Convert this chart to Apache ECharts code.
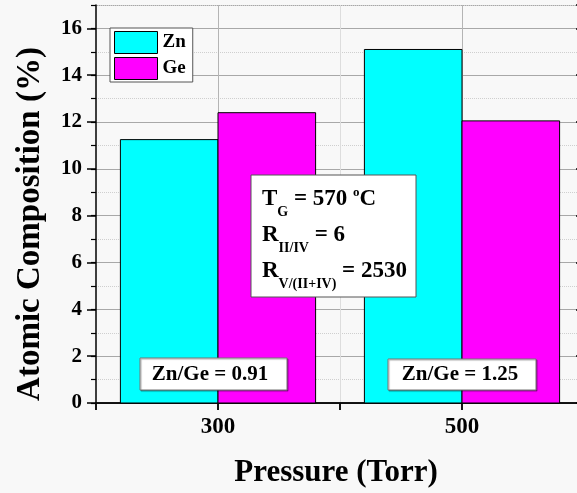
<!DOCTYPE html>
<html>
<head>
<meta charset="utf-8">
<script src="https://cdn.jsdelivr.net/npm/echarts@6/dist/echarts.min.js"></script>
<style>
html, body { margin: 0; padding: 0; background: #f8f8f8; }
#chart { width: 577px; height: 493px; }
</style>
</head>
<body>
<div id="chart"></div>
<script>
// data
var pressures = [300, 500];
var znValues = [11.25, 15.1];
var geValues = [12.4, 12.05];
var ratioLabels = ['Zn/Ge = 0.91', 'Zn/Ge = 1.25'];
var xTickLabels = [300, 500];

var serif = '"Liberation Serif", "Times New Roman", serif';
var barSpan = 80; // bar width in Torr

var chart = echarts.init(document.getElementById('chart'));

// each bar drawn from the axis scale
function barRender(offset) {
  return function (params, api) {
    var x = api.value(0);
    var p0 = api.coord([x + offset, api.value(1)]);
    var p1 = api.coord([x + offset + barSpan, 0]);
    return {
      type: 'rect',
      shape: { x: p0[0], y: p0[1], width: p1[0] - p0[0], height: p1[1] - p0[1] },
      style: { fill: api.visual('color'), stroke: '#000', lineWidth: 1 }
    };
  };
}

var richMain = {
  m: { fontSize: 23, fontWeight: 'bold', fontFamily: serif, lineHeight: 26, verticalAlign: 'top', color: '#000' },
  s: { fontSize: 14, fontWeight: 'bold', fontFamily: serif, lineHeight: 14, verticalAlign: 'top', padding: [17, 0, 0, 0], color: '#000' },
  p: { fontSize: 13, fontWeight: 'bold', fontFamily: serif, lineHeight: 13, verticalAlign: 'top', padding: [-2, 0, 0, 0], color: '#000' }
};

var option = {
  backgroundColor: '#f8f8f8',
  animation: false,
  grid: { left: 96, top: 5, right: -7, bottom: 90, outerBoundsMode: 'none' },
  legend: {
    orient: 'vertical',
    left: 110,
    top: 28,
    padding: [3, 7, 2, 4],
    itemGap: 3,
    itemWidth: 43,
    itemHeight: 22,
    icon: 'rect',
    backgroundColor: '#fff',
    borderColor: '#555',
    borderWidth: 1,
    itemStyle: { borderColor: '#000', borderWidth: 1 },
    textStyle: { fontFamily: serif, fontWeight: 'bold', fontSize: 19, color: '#000' },
    data: ['Zn', 'Ge']
  },
  xAxis: [{
    type: 'value',
    position: 'bottom',
    min: 200,
    max: 600,
    interval: 100,
    name: 'Pressure (Torr)',
    nameLocation: 'middle',
    nameGap: 54,
    nameTextStyle: { fontFamily: serif, fontWeight: 'bold', fontSize: 31, color: '#000', padding: [0, 8, 0, 0] },
    axisLine: { lineStyle: { color: '#222', width: 1.5 } },
    axisTick: { length: 7, lineStyle: { color: '#222', width: 1.5 } },
    axisLabel: {
      margin: 13,
      fontFamily: serif, fontWeight: 'bold', fontSize: 23, color: '#000',
      formatter: function (v) { return xTickLabels.indexOf(v) >= 0 ? String(v) : ''; }
    },
    splitLine: { show: true, lineStyle: { color: ['transparent', '#b4b4b4', '#dddddd', '#b4b4b4', 'transparent'], width: 1 } }
  }, {
    type: 'value',
    position: 'top',
    min: 200,
    max: 600,
    interval: 100,
    axisLine: { lineStyle: { color: '#000', width: 1.5 } },
    axisTick: { inside: true, length: 7, lineStyle: { color: '#000', width: 1.5 } },
    axisLabel: { show: false },
    splitLine: { show: false }
  }],
  yAxis: [{
    type: 'value',
    position: 'left',
    min: 0,
    max: 17,
    interval: 2,
    axisLine: { show: true, lineStyle: { color: '#000', width: 1.5 } },
    axisTick: { show: true, length: 9, lineStyle: { color: '#000', width: 1.5 } },
    axisLabel: { margin: 14, showMaxLabel: false, fontFamily: serif, fontWeight: 'bold', fontSize: 21, color: '#000' },
    splitLine: { show: true, lineStyle: { color: '#a8a8a8', width: 1 } }
  }, {
    // minor ticks and dotted grid at odd values
    type: 'value',
    position: 'left',
    min: 0,
    max: 17,
    interval: 1,
    axisLine: { show: false },
    axisTick: { show: true, length: 5, lineStyle: { color: '#000', width: 1.2 } },
    axisLabel: { show: false },
    splitLine: { show: true, lineStyle: { color: ['transparent', '#cfcfcf'], type: 'dotted', width: 1 } }
  }, {
    type: 'value',
    position: 'right',
    min: 0,
    max: 17,
    interval: 2,
    axisLine: { show: true, lineStyle: { color: '#000', width: 1.5 } },
    axisTick: { show: true, inside: true, length: 8, lineStyle: { color: '#000', width: 1.5 } },
    axisLabel: { show: false },
    splitLine: { show: false }
  }],
  series: [{
    name: 'Zn',
    type: 'custom',
    xAxisIndex: 0,
    yAxisIndex: 0,
    itemStyle: { color: '#00ffff' },
    encode: { x: 0, y: 1 },
    renderItem: barRender(-barSpan),
    data: pressures.map(function (p, i) { return [p, znValues[i]]; }),
    z: 3
  }, {
    name: 'Ge',
    type: 'custom',
    xAxisIndex: 0,
    yAxisIndex: 0,
    itemStyle: { color: '#ff00ff' },
    encode: { x: 0, y: 1 },
    renderItem: barRender(0),
    data: pressures.map(function (p, i) { return [p, geValues[i]]; }),
    z: 3
  }],
  graphic: [{
    type: 'text',
    x: 30,
    y: 224,
    rotation: Math.PI / 2,
    style: {
      text: 'Atomic Composition (%)',
      fontFamily: serif, fontWeight: 'bold', fontSize: 33,
      fill: '#000', align: 'center', verticalAlign: 'middle'
    }
  }, {
    type: 'rect',
    shape: { x: 251, y: 175, width: 165, height: 122 },
    style: { fill: '#fff', stroke: '#555', lineWidth: 1 },
    z: 10
  }, {
    type: 'text', x: 262, y: 188, z: 11,
    style: { text: '{m|T}{s|G}{m| = 570 }{p|o}{m|C}', rich: richMain, verticalAlign: 'top' }
  }, {
    type: 'text', x: 262, y: 224, z: 11,
    style: { text: '{m|R}{s|II/IV}{m| = 6}', rich: richMain, verticalAlign: 'top' }
  }, {
    type: 'text', x: 262, y: 260, z: 11,
    style: { text: '{m|R}{s|V/(II+IV)}{m| = 2530}', rich: richMain, verticalAlign: 'top' }
  }, {
    type: 'rect',
    shape: { x: 140, y: 358, width: 147, height: 32 },
    style: { fill: '#fff', stroke: '#777', lineWidth: 1, shadowColor: 'rgba(0,0,0,0.35)', shadowOffsetX: 1, shadowOffsetY: 1, shadowBlur: 1 },
    z: 10
  }, {
    type: 'text', x: 210, y: 375, z: 11,
    style: { text: ratioLabels[0], fontFamily: serif, fontWeight: 'bold', fontSize: 21, fill: '#000', align: 'center', verticalAlign: 'middle' }
  }, {
    type: 'rect',
    shape: { x: 388, y: 359, width: 148, height: 31 },
    style: { fill: '#fff', stroke: '#777', lineWidth: 1, shadowColor: 'rgba(0,0,0,0.35)', shadowOffsetX: 1, shadowOffsetY: 1, shadowBlur: 1 },
    z: 10
  }, {
    type: 'text', x: 460, y: 375, z: 11,
    style: { text: ratioLabels[1], fontFamily: serif, fontWeight: 'bold', fontSize: 21, fill: '#000', align: 'center', verticalAlign: 'middle' }
  }]
};

chart.setOption(option);
</script>
</body>
</html>
